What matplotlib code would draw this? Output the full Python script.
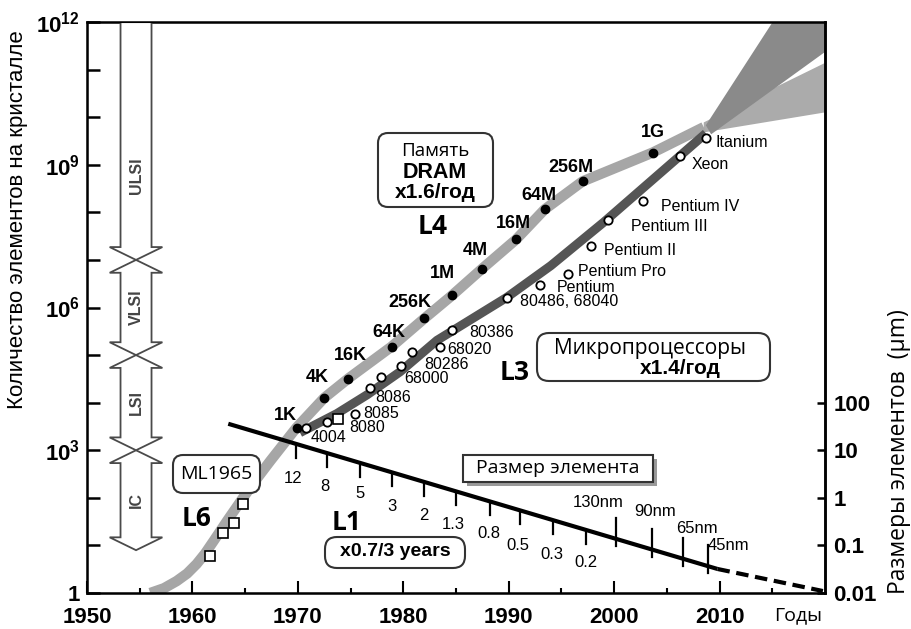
import numpy as np
import matplotlib
matplotlib.use('Agg')
import matplotlib.pyplot as plt
from matplotlib.patches import FancyBboxPatch, Rectangle, Polygon
from matplotlib.transforms import IdentityTransform
from matplotlib.ticker import FixedLocator, FixedFormatter, NullLocator

plt.rcParams['font.family'] = ['Liberation Sans', 'DejaVu Sans']
plt.rcParams['mathtext.default'] = 'regular'

W, H = 912, 629

# ---- data ----
# DRAM (year, elements per chip)
dram_names = ['1K', '4K', '16K', '64K', '256K', '1M', '4M', '16M', '64M', '256M', '1G']
dram_year = [1969.9, 1972.5, 1974.8, 1978.9, 1982.0, 1984.6, 1987.5, 1990.7, 1993.4, 1997.0, 2003.7]
dram_count = [3.0e3, 1.26e4, 3.2e4, 1.5e5, 5.9e5, 1.8e6, 6.6e6, 2.7e7, 1.15e8, 4.5e8, 1.8e9]

# microprocessors
cpu_names = ['4004', '', '8085', '8086', '', '68000', '80286', '68020', '80386', '80486, 68040',
             'Pentium', 'Pentium Pro', 'Pentium II', 'Pentium III', 'Pentium IV', 'Xeon', 'Itanium']
cpu_year = [1970.8, 1972.8, 1975.4, 1976.8, 1977.9, 1979.8, 1980.8, 1983.5, 1984.6, 1989.8,
            1993.0, 1995.6, 1997.8, 1999.4, 2002.7, 2006.2, 2008.7]
cpu_count = [2.9e3, 4.0e3, 5.8e3, 2.0e4, 3.4e4, 6.0e4, 1.15e5, 1.5e5, 3.3e5, 1.6e6,
             2.9e6, 5.1e6, 1.95e7, 7.0e7, 1.7e8, 1.5e9, 3.6e9]

# Moore 1965 points and 8080
ml_year = [1961.7, 1962.9, 1963.9, 1964.8]
ml_count = [6.0, 18.6, 30.0, 74.0]
i8080_year = [1973.8]
i8080_count = [4.5e3]

# trend bands (log10 of elements)
mem_band_year = [1956.0, 1957.3, 1958.5, 1959.5, 1960.4, 1961.2, 1962.0, 1963.3, 1964.8, 1966.1,
                 1967.4, 1969.85, 1972.5, 1974.8, 1978.9, 1982.0, 1984.6, 1987.5, 1990.7, 1993.4,
                 1997.0, 2003.7, 2008.5]
mem_band_log = [0.0, 0.1, 0.25, 0.41, 0.61, 0.83, 1.09, 1.52, 2.0, 2.4,
                2.78, 3.47, 4.1, 4.51, 5.18, 5.77, 6.25, 6.82, 7.43, 8.06,
                8.65, 9.26, 9.79]
cpu_band_year = [1970.2, 1973.7, 1976.6, 1979.7, 1983.2, 1989.8, 1994.0, 1999.0, 2008.7]
cpu_band_log = [3.37, 3.77, 4.17, 4.65, 5.31, 6.21, 6.88, 7.79, 9.66]

# forecast fans
mem_fan_year = [2008.5, 2020, 2020, 2008.5]
mem_fan_log = [9.89, 11.14, 10.1, 9.68]
cpu_fan_year = [2008.7, 2020, 2020, 2009.2]
cpu_fan_log = [9.83, 13.7, 11.37, 9.64]

# feature size (um)
size_year = [1963.4, 2009.8]
size_um = [36.0, 0.032]
proj_year = [2009.8, 2019.8]
proj_um = [0.032, 0.011]
fs_year = [1969.8, 1972.8, 1975.9, 1978.9, 1982.0, 1985.0, 1988.2, 1991.1, 1994.2, 1997.3,
           2000.2, 2003.6, 2006.5, 2008.9]
fs_labels = ['12', '8', '5', '3', '2', '1.3', '0.8', '0.5', '0.3', '0.2', '130nm', '90nm', '65nm', '45nm']

# integration levels (log10 bounds)
levels = ['IC', 'LSI', 'VLSI', 'ULSI']
level_lo = [0.9, 3, 5, 7]
level_hi = [3, 5, 7, 12]

# ---- layout helpers ----
fig = plt.figure(figsize=(W / 100, H / 100), dpi=100)
ax = fig.add_axes([87 / W, 1 - 593 / H, (825 - 87) / W, (593 - 22) / H])
DEC = 12 / 571.0  # decades per pixel


def ftext(x, y, s, **kw):
    fig.text(x / W, 1 - y / H, s, ha=kw.pop('ha', 'center'), va=kw.pop('va', 'center'), **kw)


def fbox(x0, y0, x1, y1, r=10, **kw):
    p = FancyBboxPatch((x0, H - y1), x1 - x0, y1 - y0,
                       boxstyle='round,pad=0,rounding_size=%d' % r,
                       transform=IdentityTransform(), **kw)
    fig.add_artist(p)


ax.set_xlim(1950, 2020)
ax.set_yscale('log')
ax.set_ylim(1, 1e12)

# fans and bands
ax.fill(mem_fan_year, 10 ** np.array(mem_fan_log), color='#ababab', lw=0, zorder=1)
ax.fill(cpu_fan_year, 10 ** np.array(cpu_fan_log), color='#8a8a8a', lw=0, zorder=1.1)
ax.plot(mem_band_year, 10 ** np.array(mem_band_log), color='#a6a6a6', lw=7.5,
        solid_capstyle='butt', solid_joinstyle='round', zorder=2)
ax.plot(cpu_band_year, 10 ** np.array(cpu_band_log), color='#555555', lw=6.5,
        solid_capstyle='butt', solid_joinstyle='round', zorder=2.1)

# markers
ax.plot(dram_year, dram_count, 'o', color='black', ms=6, zorder=5)
ax.plot(cpu_year, cpu_count, 'o', mfc='white', mec='black', ms=6, mew=1.3, zorder=5)
ax.plot(ml_year, ml_count, 's', mfc='white', mec='black', ms=7.5, mew=1.2, zorder=5)
ax.plot(i8080_year, i8080_count, 's', mfc='white', mec='black', ms=7.5, mew=1.2, zorder=5)

dram_off = [(-11, -12), (-7, -20), (2, -23), (-3, -14), (-14, -16), (-9, -22), (-7, -18),
            (-3, -16), (-6, -14), (-12, -14), (0, -20)]
for n, x, y, (dx, dy) in zip(dram_names, dram_year, dram_count, dram_off):
    ax.annotate(n, (x, y), xytext=(dx * 0.72, -dy * 0.72), textcoords='offset points',
                ha='center', va='center', fontsize=13, fontweight='bold')

cpu_off = [(4, 9), (0, 0), (8, 0), (6, 9), (0, 0), (3, 13), (13, 12), (7, 3), (17, 2), (13, 4),
           (16, 2), (10, -2), (13, 4), (23, 7), (18, 5), (12, 8), (10, 4)]
for n, x, y, (dx, dy) in zip(cpu_names, cpu_year, cpu_count, cpu_off):
    if n:
        ax.annotate(n, (x, y), xytext=(dx * 0.72, -dy * 0.72), textcoords='offset points',
                    ha='left', va='center', fontsize=11.5)
ax.annotate('8080', (i8080_year[0], i8080_count[0]), xytext=(11 * 0.72, -8 * 0.72),
            textcoords='offset points', ha='left', va='center', fontsize=11.5)

# integration level arrows
c, s, w, h = 1954.65, 1.47, 2.5, 0.27
for name, lo, hi in zip(levels, level_lo, level_hi):
    if hi >= 12:
        top = [(c - s, hi), (c + s, hi)]
        mid = 8.78
    else:
        top = [(c - s, hi - h), (c - w, hi - h), (c, hi), (c + w, hi - h), (c + s, hi - h)]
        mid = (lo + hi) / 2
    bot = [(c + s, lo + h), (c + w, lo + h), (c, lo), (c - w, lo + h), (c - s, lo + h)]
    pts = np.array(top + bot)
    ax.add_patch(Polygon(np.column_stack([pts[:, 0], 10 ** pts[:, 1]]), closed=True,
                         fc='white', ec='#4a4a4a', lw=1.3, zorder=3))
    ax.text(c, 10 ** mid, name, rotation=90, ha='center', va='center', fontsize=11.5,
            fontweight='bold', color='#444444', zorder=4)

# ticks
ax.xaxis.set_major_locator(FixedLocator(range(1950, 2011, 10)))
ax.xaxis.set_minor_locator(FixedLocator(range(1955, 2020, 10)))
ax.tick_params(axis='x', which='major', direction='in', length=8.6, width=1.5, pad=10,
               labelsize=16)
ax.tick_params(axis='x', which='minor', direction='in', length=3.6, width=1.5)
ax.yaxis.set_major_locator(FixedLocator(10.0 ** np.arange(0, 13)))
ax.yaxis.set_minor_locator(NullLocator())
ylabels = ['' for _ in range(13)]
ylabels[0], ylabels[3], ylabels[6], ylabels[9], ylabels[12] = '1', '$10^3$', '$10^6$', '$10^9$', '$10^{12}$'
ax.yaxis.set_major_formatter(FixedFormatter(ylabels))
ax.tick_params(axis='y', direction='in', length=9, width=1.8, pad=5, labelsize=16)
for lab in ax.get_xticklabels() + ax.get_yticklabels():
    lab.set_fontweight('bold')
for sp in ax.spines.values():
    sp.set_linewidth(1.8)

# right axis: feature size
ax2 = ax.twinx()
ax2.set_yscale('log')
ax2.set_ylim(0.01, 1e10)
ax2.yaxis.set_major_locator(FixedLocator([0.01, 0.1, 1, 10, 100]))
ax2.yaxis.set_minor_locator(NullLocator())
ax2.yaxis.set_major_formatter(FixedFormatter(['0.01', '0.1', '1', '10', '100']))
ax2.tick_params(axis='y', direction='in', length=6, width=1.8, pad=6, labelsize=16)
for lab in ax2.get_yticklabels():
    lab.set_fontweight('bold')
ax2.spines['right'].set_linewidth(1.8)

ax2.plot(size_year, size_um, color='black', lw=3, solid_capstyle='butt', zorder=4)
ax2.plot(proj_year, proj_um, color='black', lw=3, ls=(0, (3, 1.6)), zorder=4)

fs_line = 10 ** np.interp(fs_year, size_year, np.log10(size_um))
fs_off = [(-3, 35), (-3, 33), (0, 31), (0, 34), (-1, 34), (-3, 33), (-1, 32), (-2, 35), (-1, 34),
          (0, 33), (-18, -36), (3, -38), (14, -30), (20, -21)]
for x, yl, lab, (dx, dy) in zip(fs_year, fs_line, fs_labels, fs_off):
    if dy > 0:
        y0, y1 = yl * 10 ** (-2 * DEC), yl * 10 ** (-14 * DEC)
    else:
        y0, y1 = yl * 10 ** (-7 * DEC), yl * 10 ** (21 * DEC)
    ax2.plot([x, x], [y0, y1], color='black', lw=1.6, zorder=4)
    ax2.annotate(lab, (x, yl), xytext=(dx * 0.72, -dy * 0.72), textcoords='offset points',
                 ha='center', va='center', fontsize=12)

# boxes and labels
fbox(378, 133, 493, 207, fc='white', ec='#333333', lw=1.5)
ftext(435, 151, 'Память', family='Open Sans', fontsize=13.5)
ftext(435, 172, 'DRAM', fontsize=15.5, fontweight='bold')
ftext(435, 193, 'x1.6/год', fontsize=15, fontweight='bold')

fbox(537, 333, 770, 381, r=12, fc='white', ec='#333333', lw=1.5)
ftext(650, 349, 'Микропроцессоры', family='Open Sans', fontsize=15)
ftext(680, 369, 'x1.4/год', fontsize=15, fontweight='bold')

sh = Rectangle((467, H - 486), 190, 27, transform=IdentityTransform(), fc='#9a9a9a', ec='none')
fig.add_artist(sh)
sq = Rectangle((463, H - 482), 190, 27, transform=IdentityTransform(), fc='white', ec='#333333', lw=1.5)
fig.add_artist(sq)
ftext(558, 468, 'Размер элемента', family='Open Sans', fontsize=14)

fbox(173, 455, 260, 493, r=10, fc='white', ec='#333333', lw=1.5)
ftext(216, 474, 'ML1965', family='Open Sans', fontsize=14)

fbox(325, 537, 465, 568, r=12, fc='white', ec='#333333', lw=1.5)
ftext(395, 552, 'x0.7/3 years', fontsize=14, fontweight='bold')

for t, x, y in [('L4', 433, 227), ('L3', 515, 372), ('L6', 197, 518), ('L1', 347, 522)]:
    ftext(x, y, t, family='Open Sans', fontsize=19, fontweight='bold')

ftext(18, 220, 'Количество элементов на кристалле', rotation=90, fontsize=16)
ftext(899, 452, 'Размеры элементов  (μm)', rotation=90, family='Open Sans', fontsize=16.5)
ftext(798, 615, 'Годы', family='Open Sans', fontsize=14)

fig.savefig('out.png', dpi=100, facecolor='white')
